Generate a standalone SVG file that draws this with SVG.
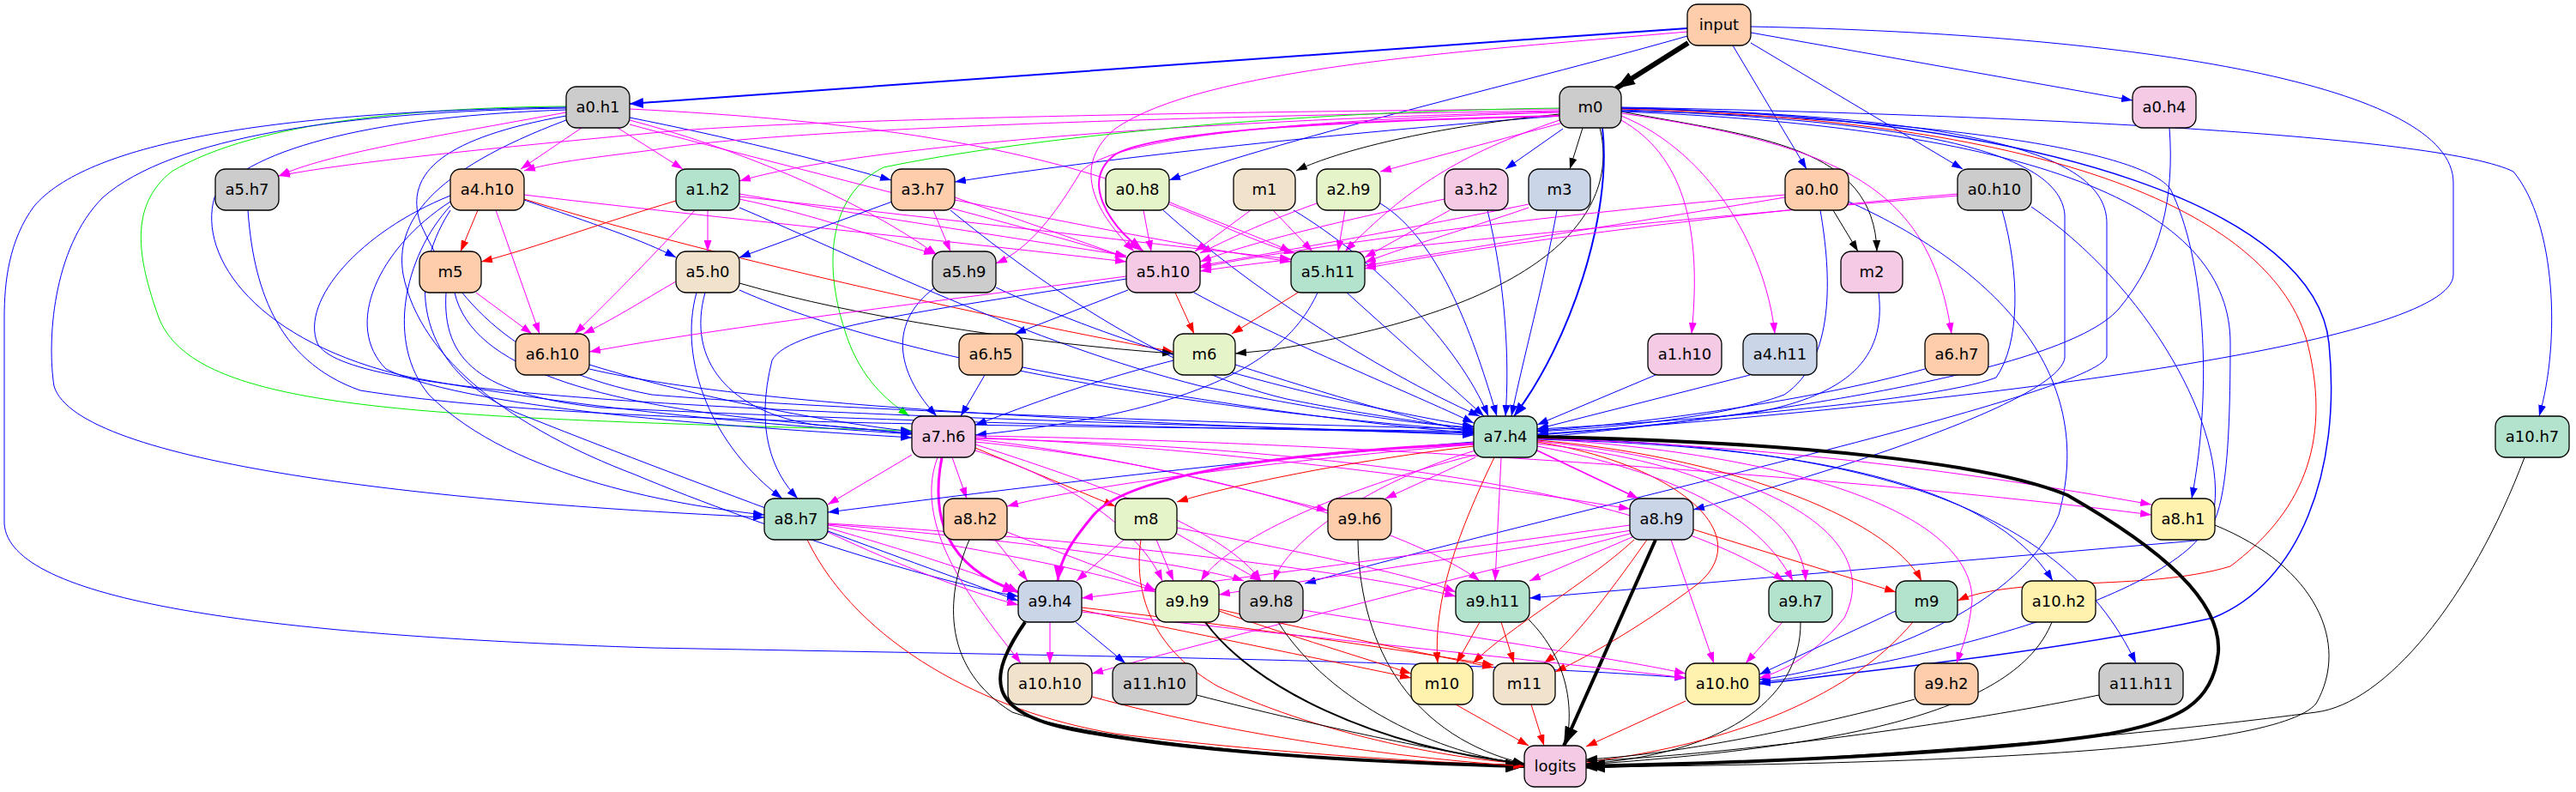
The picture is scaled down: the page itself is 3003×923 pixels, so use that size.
<svg xmlns="http://www.w3.org/2000/svg" width="3003" height="923" viewBox="0 0 3003 923">
<style>
.node rect{stroke:#000;stroke-width:1.3}
.node text{font-family:"DejaVu Sans","Liberation Sans",sans-serif;font-size:18px;text-anchor:middle;fill:#000}
.c1{fill:#b3e2cd}.c2{fill:#fdcdac}.c3{fill:#cbd5e8}.c4{fill:#f4cae4}.c5{fill:#e6f5c9}.c6{fill:#fff2ae}.c7{fill:#f1e2cc}.c8{fill:#cccccc}
#edges path{fill:none;stroke-width:1}
.b{stroke:#0000ff;marker-end:url(#ab)}
.m{stroke:#ff00ff;marker-end:url(#am)}
.r{stroke:#ff0000;marker-end:url(#ar)}
.k{stroke:#000;marker-end:url(#ak)}
.g{stroke:#00ee00;marker-end:url(#ag)}
#edges .t15{stroke-width:1.5}
#edges .t2{stroke-width:2}
#edges .t3{stroke-width:3}
#edges .t4{stroke-width:4}
#edges .t6{stroke-width:6}
#edges .bk{marker-end:url(#akB)}
#edges .bm{marker-end:url(#amB)}
#edges .bb{marker-end:url(#abB)}
</style>
<defs>
<marker id="ab" viewBox="0 0 13 9" refX="13" refY="4.5" markerWidth="13" markerHeight="9" markerUnits="userSpaceOnUse" orient="auto"><path d="M0,0 L13,4.5 L0,9z" fill="#0000ff"/></marker>
<marker id="am" viewBox="0 0 13 9" refX="13" refY="4.5" markerWidth="13" markerHeight="9" markerUnits="userSpaceOnUse" orient="auto"><path d="M0,0 L13,4.5 L0,9z" fill="#ff00ff"/></marker>
<marker id="ar" viewBox="0 0 13 9" refX="13" refY="4.5" markerWidth="13" markerHeight="9" markerUnits="userSpaceOnUse" orient="auto"><path d="M0,0 L13,4.5 L0,9z" fill="#ff0000"/></marker>
<marker id="ak" viewBox="0 0 13 9" refX="13" refY="4.5" markerWidth="13" markerHeight="9" markerUnits="userSpaceOnUse" orient="auto"><path d="M0,0 L13,4.5 L0,9z" fill="#000"/></marker>
<marker id="ag" viewBox="0 0 13 9" refX="13" refY="4.5" markerWidth="13" markerHeight="9" markerUnits="userSpaceOnUse" orient="auto"><path d="M0,0 L13,4.5 L0,9z" fill="#00ee00"/></marker>
<marker id="akB" viewBox="0 0 22 16" refX="22" refY="8" markerWidth="22" markerHeight="16" markerUnits="userSpaceOnUse" orient="auto"><path d="M0,0 L22,8 L0,16z" fill="#000"/></marker>
<marker id="amB" viewBox="0 0 18 13" refX="18" refY="6.5" markerWidth="18" markerHeight="13" markerUnits="userSpaceOnUse" orient="auto"><path d="M0,0 L18,6.5 L0,13z" fill="#ff00ff"/></marker>
<marker id="abB" viewBox="0 0 16 12" refX="16" refY="6" markerWidth="16" markerHeight="12" markerUnits="userSpaceOnUse" orient="auto"><path d="M0,0 L16,6 L0,12z" fill="#0000ff"/></marker>
</defs>
<rect width="3003" height="923" fill="#fff"/>
<g id="edges">
<!-- input -->
<path class="k t6 bk" d="M1968,50 L1884,103"/>
<path class="b t2 bb" d="M1967,33 C1500,65 1000,105 734,121"/>
<path class="m" d="M1967,37 C1700,60 1400,80 1300,150 C1240,200 1290,260 1322,293"/>
<path class="b" d="M1967,42 C1800,90 1500,160 1363,210"/>
<path class="b" d="M2020,53 L2106,197"/>
<path class="b" d="M2041,50 L2288,197"/>
<path class="b" d="M2041,38 L2486,117"/>
<path class="b" d="M2041,31 C2500,40 2860,100 2860,213 L2860,320 C2860,400 2300,470 1792,506"/>
<!-- a0.h1 -->
<path class="m" d="M660,131 C500,160 380,180 325,205"/>
<path class="m" d="M678,149 L607,197"/>
<path class="m" d="M720,149 L796,197"/>
<path class="b" d="M734,137 C850,160 950,185 1039,210"/>
<path class="m" d="M734,140 C850,170 1000,230 1092,297"/>
<path class="m" d="M734,127 C1000,140 1200,170 1350,230 C1420,260 1480,280 1505,294"/>
<path class="m" d="M734,145 C900,190 1150,250 1313,300"/>
<path class="b" d="M660,135 C520,160 470,200 490,260 C530,350 600,430 760,460 C1000,480 1500,495 1718,500"/>
<path class="g" d="M660,124 C500,125 300,140 200,200 C150,240 160,300 185,370 C220,460 400,480 760,493 C900,498 1000,500 1063,502"/>
<path class="b" d="M660,128 C450,135 290,170 250,230 C230,300 300,400 480,440 C700,480 900,495 1063,506"/>
<path class="b" d="M660,126 C400,130 200,160 120,230 C60,290 55,400 63,450 C90,540 500,585 891,603"/>
<path class="b" d="M660,125 C300,130 100,170 40,240 C10,280 5,330 5,370 L5,610 C10,700 300,740 760,755 C1300,765 1700,770 1965,790"/>
<path class="b" d="M660,140 C500,200 460,260 470,320 C490,420 600,500 740,553 C900,620 1100,680 1187,695"/>
<!-- m0 -->
<path class="m" d="M1818,127 C1400,130 900,140 760,155 C550,175 400,190 325,205"/>
<path class="m" d="M1818,129 C1400,135 900,150 760,175 C680,185 640,190 611,199"/>
<path class="m" d="M1818,130 C1400,140 1000,170 862,211"/>
<path class="b" d="M1818,135 C1500,160 1250,190 1113,212"/>
<path class="k" d="M1818,133 C1650,150 1550,180 1511,199"/>
<path class="m" d="M1822,143 L1609,200"/>
<path class="b" d="M1822,150 L1755,197"/>
<path class="k" d="M1845,149 L1830,197"/>
<path class="m t2 bm" d="M1818,135 C1600,140 1350,150 1300,180 C1260,210 1290,260 1333,293"/>
<path class="m" d="M1818,140 C1700,180 1640,220 1568,293"/>
<path class="m" d="M1818,131 C1500,140 1300,160 1260,200 C1230,250 1200,290 1161,307"/>
<path class="k" d="M1890,130 C2050,160 2185,170 2188,293"/>
<path class="k" d="M1865,149 C1890,250 1800,360 1480,408 L1440,412"/>
<path class="m" d="M1890,140 C1960,180 1985,260 1972,389"/>
<path class="m" d="M1890,135 C2000,180 2060,300 2069,389"/>
<path class="m" d="M1890,132 C2150,170 2250,220 2275,389"/>
<path class="g" d="M1818,126 C1500,130 1200,160 1030,195 C960,230 960,320 990,400 C1010,450 1040,470 1060,485"/>
<path class="b t2 bb" d="M1868,149 C1880,250 1830,400 1765,485"/>
<path class="b" d="M1890,128 C2200,140 2400,170 2407,250 L2407,417 C2400,470 2100,560 1974,594"/>
<path class="b" d="M1890,129 C2300,140 2500,180 2530,220 C2570,300 2580,450 2555,581"/>
<path class="b" d="M1890,125 C2400,135 2850,160 2930,200 C2980,260 2985,400 2960,485"/>
<path class="b" d="M1890,126 C2300,135 2456,180 2456,260 L2456,415 C2450,460 1800,600 1521,680"/>
<path class="b" d="M1890,130 C2400,150 2600,250 2600,400 C2600,560 2590,620 2560,630 L1783,697"/>
<path class="r" d="M1890,127 C2400,140 2650,250 2690,400 C2720,520 2680,600 2600,660 C2500,690 2350,670 2282,700"/>
<path class="b t15" d="M1890,126 C2400,135 2700,250 2715,400 C2730,550 2680,680 2580,720 C2400,760 2150,785 2051,797"/>
<!-- a0.h4 -->
<path class="b" d="M2529,149 C2535,230 2520,300 2470,360 C2400,440 2000,490 1792,510"/>
<!-- a5.h7 -->
<path class="b" d="M289,245 C295,330 320,420 420,455 C700,500 1300,495 1718,503"/>
<!-- a4.h10 -->
<path class="r" d="M557,245 L537,293"/>
<path class="m" d="M578,245 L629,389"/>
<path class="b" d="M611,233 C690,260 750,280 788,300"/>
<path class="m" d="M611,227 C800,250 1100,280 1313,305"/>
<path class="r" d="M611,232 C800,290 1100,360 1368,410"/>
<path class="b" d="M525,228 C420,270 350,350 370,400 C400,460 800,480 1718,505"/>
<path class="b" d="M525,235 C440,290 400,380 450,430 C550,480 900,500 1063,510"/>
<path class="b" d="M525,240 C470,300 450,400 500,460 C600,560 800,590 891,600"/>
<path class="b" d="M525,245 C470,330 490,430 600,480 C800,560 1050,650 1187,700"/>
<!-- a1.h2 -->
<path class="r" d="M788,234 C700,260 620,290 561,305"/>
<path class="m" d="M825,245 L825,293"/>
<path class="m" d="M810,245 C760,300 700,360 670,389"/>
<path class="m" d="M862,232 C950,250 1030,280 1090,296"/>
<path class="m" d="M862,226 C1000,250 1200,280 1313,298"/>
<path class="m" d="M862,229 C1100,255 1350,285 1505,302"/>
<path class="b" d="M862,242 C1000,300 1200,400 1400,450 C1550,480 1650,495 1718,498"/>
<!-- a3.h7 -->
<path class="b" d="M1040,235 L862,300"/>
<path class="m" d="M1088,245 L1108,293"/>
<path class="m" d="M1113,230 C1200,260 1270,285 1313,300"/>
<path class="m" d="M1113,233 C1250,260 1400,290 1505,305"/>
<path class="b" d="M1108,245 C1200,320 1350,430 1500,465 C1600,485 1680,495 1718,500"/>
<!-- a0.h8 -->
<path class="m" d="M1333,245 L1342,293"/>
<path class="m" d="M1363,238 C1420,260 1470,285 1510,295"/>
<path class="b" d="M1356,245 C1450,330 1600,430 1725,485"/>
<!-- m1 -->
<path class="m" d="M1458,245 L1393,293"/>
<path class="m" d="M1484,245 L1530,293"/>
<path class="b" d="M1508,245 C1600,300 1700,400 1735,485"/>
<!-- a2.h9 -->
<path class="m" d="M1535,237 C1470,260 1430,280 1399,295"/>
<path class="m" d="M1568,245 L1560,293"/>
<path class="b" d="M1609,237 C1680,280 1720,400 1745,485"/>
<!-- a3.h2 -->
<path class="m" d="M1684,232 C1550,260 1450,285 1399,305"/>
<path class="m" d="M1690,245 L1591,300"/>
<path class="b" d="M1734,245 C1755,330 1760,420 1755,485"/>
<!-- m3 -->
<path class="m" d="M1782,238 C1600,275 1450,300 1399,310"/>
<path class="m" d="M1782,242 C1700,270 1630,290 1591,306"/>
<path class="b" d="M1815,245 C1800,330 1775,420 1762,485"/>
<!-- a0.h0 -->
<path class="m" d="M2081,227 C1800,250 1500,290 1399,312"/>
<path class="m" d="M2081,230 C1900,260 1700,290 1591,310"/>
<path class="k" d="M2137,245 L2166,293"/>
<path class="b" d="M2122,245 C2135,320 2140,420 2080,460 C2000,490 1850,500 1792,503"/>
<path class="b" d="M2155,235 C2300,300 2450,420 2400,600 C2350,720 2150,780 2051,792"/>
<!-- a0.h10 -->
<path class="m" d="M2282,228 C1900,260 1500,300 1399,316"/>
<path class="m" d="M2282,226 C2000,250 1700,290 1591,313"/>
<path class="b" d="M2334,245 C2355,320 2355,400 2327,440 C2250,470 1900,495 1792,500"/>
<path class="b" d="M2368,241 C2500,330 2600,500 2580,600 C2550,700 2200,780 2051,795"/>
<!-- m2 -->
<path class="b" d="M2190,341 C2200,420 2150,460 2050,480 C1900,500 1820,505 1792,507"/>
<!-- m5 -->
<path class="m" d="M555,341 L620,389"/>
<path class="b" d="M520,341 C515,420 560,460 700,475 C1100,495 1500,500 1718,505"/>
<path class="b" d="M530,341 C550,430 700,470 900,490 C980,498 1030,502 1063,505"/>
<!-- a5.h0 -->
<path class="m" d="M788,328 C750,350 710,375 680,389"/>
<path class="k" d="M862,330 C1000,370 1200,400 1368,412"/>
<path class="b" d="M862,338 C1000,400 1300,470 1718,502"/>
<path class="b" d="M812,341 C790,420 830,520 912,581"/>
<path class="b" d="M822,341 C800,420 850,480 950,495 C1010,500 1040,503 1063,505"/>
<!-- a5.h9 -->
<path class="b" d="M1090,335 C1030,380 1050,440 1092,485"/>
<path class="b" d="M1161,335 C1300,400 1500,460 1718,497"/>
<!-- a5.h10 -->
<path class="b" d="M1315,338 L1183,389"/>
<path class="r" d="M1370,341 L1392,389"/>
<path class="m" d="M1313,322 C1100,350 850,380 687,410"/>
<path class="b" d="M1392,341 C1500,400 1650,460 1718,493"/>
<path class="b" d="M1313,325 C1100,360 920,380 900,420 C880,500 900,550 930,581"/>
<!-- a5.h11 -->
<path class="r" d="M1513,341 L1436,389"/>
<path class="b" d="M1570,341 L1730,485"/>
<path class="b" d="M1536,341 C1500,420 1400,480 1137,507"/>
<!-- rank 4 -->
<path class="b" d="M687,425 C800,460 950,490 1063,503"/>
<path class="b" d="M687,430 C900,480 1400,495 1718,507"/>
<path class="b" d="M1148,437 L1120,485"/>
<path class="b" d="M1192,428 C1400,470 1600,495 1718,505"/>
<path class="b" d="M1368,420 C1250,450 1180,480 1137,495"/>
<path class="b" d="M1440,425 C1550,460 1650,490 1718,504"/>
<path class="b" d="M1930,437 L1792,495"/>
<path class="b" d="M2040,437 L1792,500"/>
<path class="b" d="M2244,430 C2100,470 1900,495 1792,502"/>
<!-- a7.h6 -->
<path class="m" d="M1063,530 L965,588"/>
<path class="m" d="M1110,533 L1127,581"/>
<path class="r" d="M1137,522 L1300,590"/>
<path class="m t3 bm" d="M1098,533 C1085,600 1100,660 1187,690"/>
<path class="m" d="M1137,525 C1250,560 1330,620 1355,677"/>
<path class="m" d="M1137,518 C1300,570 1430,620 1470,677"/>
<path class="m" d="M1137,512 C1300,530 1450,570 1548,595"/>
<path class="m" d="M1137,515 C1400,540 1650,620 1725,677"/>
<path class="m" d="M1137,510 C1400,520 1700,560 1900,593"/>
<path class="m" d="M1137,508 C1600,515 2200,560 2508,600"/>
<path class="m" d="M1137,511 C1500,520 1900,560 2080,677"/>
<path class="m" d="M1093,533 C1060,620 1150,720 1190,773"/>
<!-- a7.h4 -->
<path class="b" d="M1718,515 C1400,540 1100,580 965,597"/>
<path class="m" d="M1718,518 C1450,540 1250,570 1174,590"/>
<path class="r" d="M1718,520 C1550,540 1420,570 1372,585"/>
<path class="m" d="M1720,533 L1615,581"/>
<path class="m t15" d="M1792,525 L1910,581"/>
<path class="m t3 bm" d="M1718,517 C1450,530 1310,560 1275,600 C1250,630 1236,650 1233,677"/>
<path class="m" d="M1720,530 C1560,570 1430,630 1400,677"/>
<path class="m" d="M1720,525 C1600,560 1500,630 1485,677"/>
<path class="m" d="M1750,533 L1743,677"/>
<path class="r" d="M1742,533 C1700,620 1670,700 1676,773"/>
<path class="r" d="M1792,515 C1950,540 2050,620 1980,680 C1900,740 1840,770 1813,783"/>
<path class="m" d="M1792,520 C1950,550 2050,600 2090,677"/>
<path class="m" d="M1792,517 C2000,540 2100,600 2105,677"/>
<path class="r" d="M1792,513 C2000,530 2200,600 2240,677"/>
<path class="m" d="M1792,514 C2050,540 2200,620 2150,720 C2110,770 2070,785 2051,790"/>
<path class="m" d="M1792,511 C2100,530 2300,600 2299,700 C2295,740 2285,760 2281,773"/>
<path class="b" d="M1792,512 C2100,520 2320,560 2393,677"/>
<path class="b" d="M1792,510 C2150,520 2400,580 2490,773"/>
<path class="m" d="M1792,511 C2100,520 2350,560 2508,588"/>
<path class="k t4 bk" d="M1792,509 C2100,515 2320,540 2410,577 C2520,640 2590,700 2586,760 C2580,820 2540,840 2460,855 C2300,880 2000,890 1849,893"/>
<!-- rank 6 -->
<path class="m" d="M965,615 C1050,640 1150,670 1187,690"/>
<path class="m" d="M965,620 C1050,660 1130,690 1187,705"/>
<path class="m" d="M965,612 C1150,640 1300,670 1347,690"/>
<path class="m" d="M965,611 C1200,630 1400,660 1450,677"/>
<path class="m" d="M965,610 C1300,630 1600,670 1697,695"/>
<path class="r" d="M941,629 C1000,750 1150,830 1300,855 C1500,880 1700,890 1777,892"/>
<path class="m" d="M1160,629 L1198,677"/>
<path class="m" d="M1174,620 C1250,650 1320,675 1347,688"/>
<path class="k" d="M1130,629 C1100,700 1100,780 1180,830 C1300,870 1600,890 1777,893"/>
<path class="m" d="M1310,629 L1255,677"/>
<path class="m" d="M1348,629 L1368,677"/>
<path class="m" d="M1372,622 L1470,677"/>
<path class="m" d="M1372,615 C1500,640 1650,670 1697,690"/>
<path class="r" d="M1330,629 C1320,700 1350,760 1420,800 C1550,860 1700,885 1777,890"/>
<path class="k" d="M1583,629 C1585,760 1650,860 1777,890"/>
<path class="m" d="M1900,612 C1700,640 1400,680 1261,697"/>
<path class="m" d="M1905,625 L1783,677"/>
<path class="m" d="M1902,618 C1700,650 1500,680 1421,693"/>
<path class="m" d="M1900,622 C1600,700 1400,750 1273,785"/>
<path class="r" d="M1905,629 C1850,680 1760,730 1717,773"/>
<path class="r" d="M1920,629 C1870,700 1830,750 1800,773"/>
<path class="r" d="M1974,617 L2210,690"/>
<path class="m" d="M1948,629 L1998,773"/>
<path class="k t4 bk" d="M1930,629 L1823,869"/>
<path class="k" d="M2582,612 C2700,660 2740,750 2700,820 C2650,880 2200,890 1849,894"/>
<path class="k" d="M2943,533 C2880,700 2780,820 2700,830 C2400,870 2000,892 1849,895"/>
<!-- rank 7 -->
<path class="m" d="M1224,725 L1224,773"/>
<path class="b" d="M1254,725 L1312,773"/>
<path class="r" d="M1261,711 C1400,740 1550,770 1645,790"/>
<path class="r" d="M1261,708 C1450,730 1650,760 1741,775"/>
<path class="m" d="M1261,713 C1500,740 1800,770 1965,790"/>
<path class="k t4 bk" d="M1195,725 C1150,790 1150,830 1250,850 C1400,880 1650,890 1777,893"/>
<path class="r" d="M1421,712 C1500,740 1600,770 1645,785"/>
<path class="r" d="M1421,710 C1550,740 1680,765 1741,778"/>
<path class="k t2" d="M1405,725 C1460,800 1600,870 1777,890"/>
<path class="m" d="M1519,711 C1700,740 1900,770 1965,785"/>
<path class="k" d="M1490,725 C1550,820 1680,880 1777,890"/>
<path class="r" d="M1725,725 L1698,773"/>
<path class="r" d="M1750,725 L1765,773"/>
<path class="k" d="M1782,722 C1830,770 1835,830 1825,869"/>
<path class="m" d="M2078,725 L2035,773"/>
<path class="k" d="M2099,725 C2100,820 2000,880 1849,890"/>
<path class="b" d="M2210,712 L2051,786"/>
<path class="r" d="M2230,725 C2150,820 2000,870 1849,888"/>
<path class="k" d="M2392,725 C2350,830 2150,870 1849,891"/>
<!-- rank 8 -->
<path class="r" d="M1273,812 C1450,860 1650,885 1777,893"/>
<path class="k" d="M1395,810 C1550,850 1700,880 1777,890"/>
<path class="r" d="M1697,821 L1782,869"/>
<path class="r" d="M1785,821 L1800,869"/>
<path class="r" d="M1965,817 L1849,870"/>
<path class="k" d="M2232,815 C2100,850 1950,880 1849,885"/>
<path class="k" d="M2447,810 C2250,850 2000,880 1849,887"/>
</g>
<g id="nodes">
<g id="n-input" class="node"><rect class="c2" x="1967" y="5" width="74" height="48" rx="12"/><text x="2004" y="35">input</text></g>
<g id="n-a0h1" class="node"><rect class="c8" x="660" y="101" width="74" height="48" rx="12"/><text x="697" y="131">a0.h1</text></g>
<g id="n-m0" class="node"><rect class="c8" x="1818" y="101" width="72" height="48" rx="12"/><text x="1854" y="131">m0</text></g>
<g id="n-a0h4" class="node"><rect class="c4" x="2486" y="101" width="74" height="48" rx="12"/><text x="2523" y="131">a0.h4</text></g>
<g id="n-a5h7" class="node"><rect class="c8" x="251" y="197" width="74" height="48" rx="12"/><text x="288" y="227">a5.h7</text></g>
<g id="n-a4h10" class="node"><rect class="c2" x="525" y="197" width="86" height="48" rx="12"/><text x="568" y="227">a4.h10</text></g>
<g id="n-a1h2" class="node"><rect class="c1" x="788" y="197" width="74" height="48" rx="12"/><text x="825" y="227">a1.h2</text></g>
<g id="n-a3h7" class="node"><rect class="c2" x="1039" y="197" width="74" height="48" rx="12"/><text x="1076" y="227">a3.h7</text></g>
<g id="n-a0h8" class="node"><rect class="c5" x="1289" y="197" width="74" height="48" rx="12"/><text x="1326" y="227">a0.h8</text></g>
<g id="n-m1" class="node"><rect class="c7" x="1438" y="197" width="72" height="48" rx="12"/><text x="1474" y="227">m1</text></g>
<g id="n-a2h9" class="node"><rect class="c5" x="1535" y="197" width="74" height="48" rx="12"/><text x="1572" y="227">a2.h9</text></g>
<g id="n-a3h2" class="node"><rect class="c4" x="1684" y="197" width="74" height="48" rx="12"/><text x="1721" y="227">a3.h2</text></g>
<g id="n-m3" class="node"><rect class="c3" x="1782" y="197" width="72" height="48" rx="12"/><text x="1818" y="227">m3</text></g>
<g id="n-a0h0" class="node"><rect class="c2" x="2081" y="197" width="74" height="48" rx="12"/><text x="2118" y="227">a0.h0</text></g>
<g id="n-a0h10" class="node"><rect class="c8" x="2282" y="197" width="86" height="48" rx="12"/><text x="2325" y="227">a0.h10</text></g>
<g id="n-m5" class="node"><rect class="c2" x="489" y="293" width="72" height="48" rx="12"/><text x="525" y="323">m5</text></g>
<g id="n-a5h0" class="node"><rect class="c7" x="788" y="293" width="74" height="48" rx="12"/><text x="825" y="323">a5.h0</text></g>
<g id="n-a5h9" class="node"><rect class="c8" x="1087" y="293" width="74" height="48" rx="12"/><text x="1124" y="323">a5.h9</text></g>
<g id="n-a5h10" class="node"><rect class="c4" x="1313" y="293" width="86" height="48" rx="12"/><text x="1356" y="323">a5.h10</text></g>
<g id="n-a5h11" class="node"><rect class="c1" x="1505" y="293" width="86" height="48" rx="12"/><text x="1548" y="323">a5.h11</text></g>
<g id="n-m2" class="node"><rect class="c4" x="2146" y="293" width="72" height="48" rx="12"/><text x="2182" y="323">m2</text></g>
<g id="n-a6h10" class="node"><rect class="c2" x="601" y="389" width="86" height="48" rx="12"/><text x="644" y="419">a6.h10</text></g>
<g id="n-a6h5" class="node"><rect class="c2" x="1118" y="389" width="74" height="48" rx="12"/><text x="1155" y="419">a6.h5</text></g>
<g id="n-m6" class="node"><rect class="c5" x="1368" y="389" width="72" height="48" rx="12"/><text x="1404" y="419">m6</text></g>
<g id="n-a1h10" class="node"><rect class="c4" x="1921" y="389" width="86" height="48" rx="12"/><text x="1964" y="419">a1.h10</text></g>
<g id="n-a4h11" class="node"><rect class="c3" x="2032" y="389" width="86" height="48" rx="12"/><text x="2075" y="419">a4.h11</text></g>
<g id="n-a6h7" class="node"><rect class="c2" x="2244" y="389" width="74" height="48" rx="12"/><text x="2281" y="419">a6.h7</text></g>
<g id="n-a7h6" class="node"><rect class="c4" x="1063" y="485" width="74" height="48" rx="12"/><text x="1100" y="515">a7.h6</text></g>
<g id="n-a7h4" class="node"><rect class="c1" x="1718" y="485" width="74" height="48" rx="12"/><text x="1755" y="515">a7.h4</text></g>
<g id="n-a10h7" class="node"><rect class="c1" x="2909" y="485" width="86" height="48" rx="12"/><text x="2952" y="515">a10.h7</text></g>
<g id="n-a8h7" class="node"><rect class="c1" x="891" y="581" width="74" height="48" rx="12"/><text x="928" y="611">a8.h7</text></g>
<g id="n-a8h2" class="node"><rect class="c2" x="1100" y="581" width="74" height="48" rx="12"/><text x="1137" y="611">a8.h2</text></g>
<g id="n-m8" class="node"><rect class="c5" x="1300" y="581" width="72" height="48" rx="12"/><text x="1336" y="611">m8</text></g>
<g id="n-a9h6" class="node"><rect class="c2" x="1548" y="581" width="74" height="48" rx="12"/><text x="1585" y="611">a9.h6</text></g>
<g id="n-a8h9" class="node"><rect class="c3" x="1900" y="581" width="74" height="48" rx="12"/><text x="1937" y="611">a8.h9</text></g>
<g id="n-a8h1" class="node"><rect class="c6" x="2508" y="581" width="74" height="48" rx="12"/><text x="2545" y="611">a8.h1</text></g>
<g id="n-a9h4" class="node"><rect class="c3" x="1187" y="677" width="74" height="48" rx="12"/><text x="1224" y="707">a9.h4</text></g>
<g id="n-a9h9" class="node"><rect class="c5" x="1347" y="677" width="74" height="48" rx="12"/><text x="1384" y="707">a9.h9</text></g>
<g id="n-a9h8" class="node"><rect class="c8" x="1445" y="677" width="74" height="48" rx="12"/><text x="1482" y="707">a9.h8</text></g>
<g id="n-a9h11" class="node"><rect class="c1" x="1697" y="677" width="86" height="48" rx="12"/><text x="1740" y="707">a9.h11</text></g>
<g id="n-a9h7" class="node"><rect class="c1" x="2062" y="677" width="74" height="48" rx="12"/><text x="2099" y="707">a9.h7</text></g>
<g id="n-m9" class="node"><rect class="c1" x="2210" y="677" width="72" height="48" rx="12"/><text x="2246" y="707">m9</text></g>
<g id="n-a10h2" class="node"><rect class="c6" x="2357" y="677" width="86" height="48" rx="12"/><text x="2400" y="707">a10.h2</text></g>
<g id="n-a10h10" class="node"><rect class="c7" x="1175" y="773" width="98" height="48" rx="12"/><text x="1224" y="803">a10.h10</text></g>
<g id="n-a11h10" class="node"><rect class="c8" x="1297" y="773" width="98" height="48" rx="12"/><text x="1346" y="803">a11.h10</text></g>
<g id="n-m10" class="node"><rect class="c6" x="1645" y="773" width="72" height="48" rx="12"/><text x="1681" y="803">m10</text></g>
<g id="n-m11" class="node"><rect class="c7" x="1741" y="773" width="72" height="48" rx="12"/><text x="1777" y="803">m11</text></g>
<g id="n-a10h0" class="node"><rect class="c6" x="1965" y="773" width="86" height="48" rx="12"/><text x="2008" y="803">a10.h0</text></g>
<g id="n-a9h2" class="node"><rect class="c2" x="2232" y="773" width="74" height="48" rx="12"/><text x="2269" y="803">a9.h2</text></g>
<g id="n-a11h11" class="node"><rect class="c8" x="2447" y="773" width="98" height="48" rx="12"/><text x="2496" y="803">a11.h11</text></g>
<g id="n-logits" class="node"><rect class="c4" x="1777" y="869" width="72" height="48" rx="12"/><text x="1813" y="899">logits</text></g>
</g>
</svg>
